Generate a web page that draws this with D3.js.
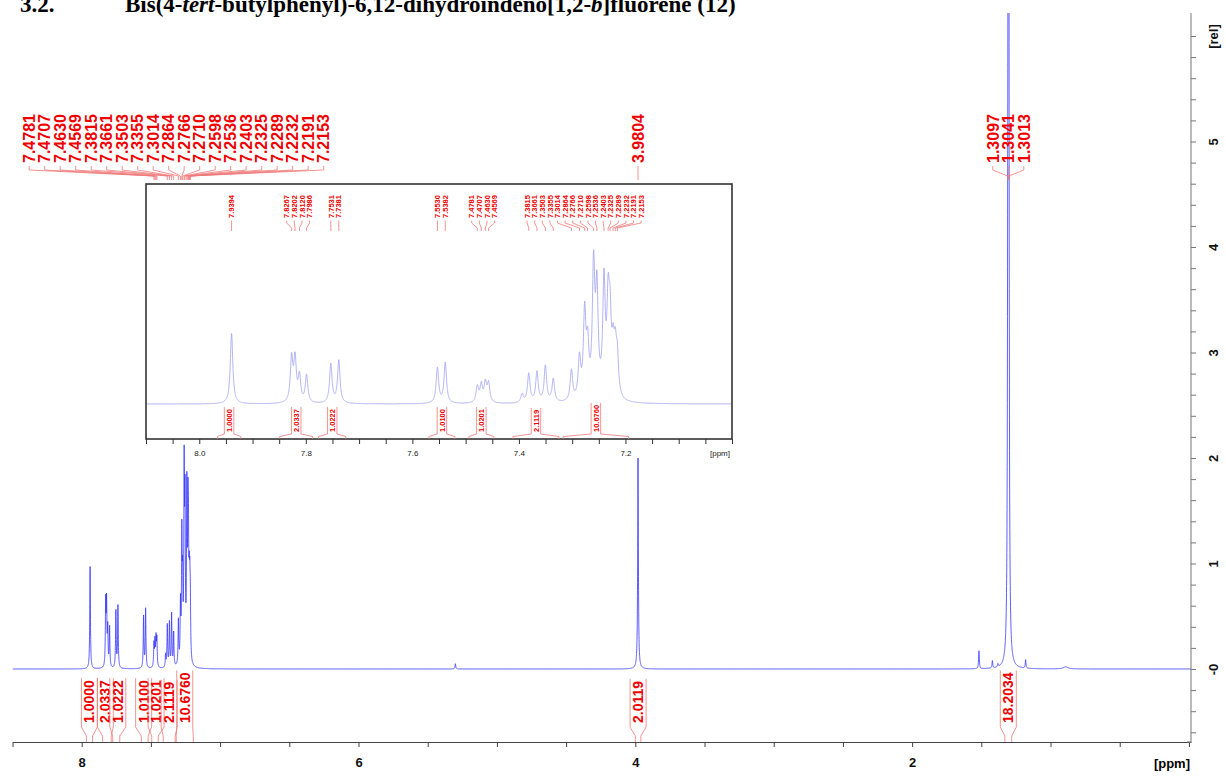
<!DOCTYPE html>
<html>
<head>
<meta charset="utf-8">
<script src="https://cdn.jsdelivr.net/npm/d3@7"></script>
<style>
body { margin: 0; background: #fff; }
svg { display: block; }
text { font-family: "Liberation Sans", Arial, sans-serif; }
</style>
</head>
<body>
<div id="chart"></div>
<script>
// Peak list: shift (ppm), height (rel), half width (ppm)
var peakShift = [7.9394, 7.8267, 7.8202, 7.8120, 7.7986, 7.7531, 7.7381, 7.5530, 7.5382,
	7.4781, 7.4707, 7.4630, 7.4569, 7.3940, 7.3815, 7.3661, 7.3503, 7.3355, 7.3014,
	7.2864, 7.2766, 7.2710, 7.2598, 7.2536, 7.2403, 7.2325, 7.2289, 7.2232, 7.2191, 7.2153,
	5.3000, 3.9804, 1.5170, 1.4200, 1.3800, 1.3097, 1.3041, 1.3013, 1.1800, 0.8900];
var peakHeight = [0.97, 0.60, 0.58, 0.35, 0.38, 0.54, 0.59, 0.49, 0.56,
	0.22, 0.24, 0.26, 0.26, 0.12, 0.40, 0.42, 0.50, 0.32, 0.42,
	0.55, 1.15, 0.65, 1.75, 1.40, 1.55, 1.15, 0.90, 0.55, 0.55, 0.50,
	0.05, 2.00, 0.17, 0.07, 0.03, 1.50, 17.0, 3.00, 0.08, 0.02];
var peakWidth = [0.0028, 0.0028, 0.0028, 0.0028, 0.0028, 0.0028, 0.0028, 0.0028, 0.0028,
	0.0028, 0.0028, 0.0028, 0.0028, 0.0028, 0.0028, 0.0028, 0.0028, 0.0028, 0.0028,
	0.0028, 0.0028, 0.0028, 0.0028, 0.0028, 0.0028, 0.0028, 0.0028, 0.0028, 0.0028, 0.0028,
	0.0030, 0.0030, 0.0030, 0.0030, 0.0030, 0.0025, 0.0025, 0.0025, 0.0030, 0.0200];

// Peak picking labels
var mainPeakLabels = [7.4781, 7.4707, 7.4630, 7.4569, 7.3815, 7.3661, 7.3503, 7.3355, 7.3014,
	7.2864, 7.2766, 7.2710, 7.2598, 7.2536, 7.2403, 7.2325, 7.2289, 7.2232, 7.2191, 7.2153,
	3.9804, 1.3097, 1.3041, 1.3013];
var insetPeakLabels = [7.9394, 7.8267, 7.8202, 7.8120, 7.7986, 7.7531, 7.7381, 7.5530, 7.5382,
	7.4781, 7.4707, 7.4630, 7.4569, 7.3815, 7.3661, 7.3503, 7.3355, 7.3014,
	7.2864, 7.2766, 7.2710, 7.2598, 7.2536, 7.2403, 7.2325, 7.2289, 7.2232, 7.2191, 7.2153];

// Integrals: region limits (ppm) and values
var integralFrom = [7.966, 7.849, 7.776, 7.569, 7.494, 7.411, 7.317, 4.000, 1.330];
var integralTo = [7.922, 7.787, 7.725, 7.520, 7.447, 7.325, 7.194, 3.960, 1.280];
var integralValue = ["1.0000", "2.0337", "1.0222", "1.0100", "1.0201", "2.1119", "10.6760", "2.0119", "18.2034"];

// Axis ticks
var mainXLabels = [8, 6, 4, 2];
var mainYLabels = [0, 1, 2, 3, 4, 5];
var insetXLabels = [8.0, 7.8, 7.6, 7.4, 7.2];

var W = 1226, H = 777;
var red = "#f00000", redLine = "#f07878";

var svg = d3.select("#chart").append("svg").attr("width", W).attr("height", H);

var x = d3.scaleLinear().domain([8.5, -0.015]).range([12.5, 1191]);
var y = d3.scaleLinear().domain([0, 1]).range([669, 563.5]);
var xi = d3.scaleLinear().domain([8.1, 7.0]).range([146, 732]);
var yi = d3.scaleLinear().domain([0, 1]).range([404, 331.5]);

function intensity(ppm) {
	var s = 0;
	for (var i = 0; i < peakShift.length; i++) {
		var d = (ppm - peakShift[i]) / peakWidth[i];
		s += peakHeight[i] / (1 + d * d);
	}
	return s;
}

function sampleGrid(lo, hi, step) {
	var g = d3.range(lo, hi, step).concat(peakShift.filter(p => p > lo && p < hi));
	g.sort(d3.ascending);
	return g.map(p => [p, intensity(p)]);
}

// spread labels so they keep a minimum gap, centred on each crowded group
function spread(xs, gap) {
	var out = [];
	xs.forEach(function(v) {
		out.push({sum: v, n: 1, pos: v});
		while (out.length > 1) {
			var a = out[out.length - 2], b = out[out.length - 1];
			if (b.pos - (a.pos + (a.n - 1) * gap) >= gap) break;
			var m = {sum: a.sum + b.sum, n: a.n + b.n};
			m.pos = m.sum / m.n - (m.n - 1) * gap / 2;
			out.splice(out.length - 2, 2, m);
		}
	});
	var res = [];
	out.forEach(function(g) { for (var i = 0; i < g.n; i++) res.push(g.pos + i * gap); });
	return res;
}

// ---- title (cut at the top of the page)
var title = svg.append("text")
	.attr("y", 12)
	.style("font-family", "'Liberation Serif', 'Times New Roman', serif")
	.style("font-weight", "bold")
	.style("font-size", "23px");
title.append("tspan").attr("x", 20).text("3.2.");
var t2 = title.append("tspan").attr("x", 125);
t2.append("tspan").text("Bis(4-");
t2.append("tspan").style("font-style", "italic").text("tert");
t2.append("tspan").text("-butylphenyl)-6,12-dihydroindeno[1,2-");
t2.append("tspan").style("font-style", "italic").text("b");
t2.append("tspan").text("]fluorene (12)");

// ---- main spectrum
svg.append("clipPath").attr("id", "mainClip")
	.append("rect").attr("x", 12.5).attr("y", 13).attr("width", 1191 - 12.5).attr("height", 742 - 13);

var mainData = sampleGrid(-0.015, 8.5, 0.0005);
svg.append("path")
	.attr("clip-path", "url(#mainClip)")
	.attr("d", d3.line().x(d => x(d[0])).y(d => y(d[1]))(mainData))
	.attr("fill", "none")
	.attr("stroke", "#3636ff")
	.attr("stroke-width", 0.8);

// ---- main x axis
var xMinor = d3.range(0, 8.51, 0.5);
var xAxis = d3.axisBottom(x)
	.tickValues(xMinor)
	.tickSize(5)
	.tickSizeOuter(0)
	.tickFormat(d => mainXLabels.indexOf(d) >= 0 ? d : "");
var gx = svg.append("g").attr("transform", "translate(0,742)").call(xAxis);
gx.select(".domain").attr("stroke", "#444");
gx.selectAll(".tick line").attr("stroke", "#444");
gx.selectAll(".tick text")
	.attr("dy", "1.3em")
	.style("font-weight", "bold").style("font-size", "13px").attr("fill", "#111");
svg.append("text").attr("x", 1190).attr("y", 768).attr("text-anchor", "end")
	.style("font-weight", "bold").style("font-size", "13px").text("[ppm]");

// ---- main y axis (right)
var yMinor = d3.range(-6, 62, 2).map(v => v / 10);
var yAxis = d3.axisRight(y)
	.tickValues(yMinor)
	.tickSize(5)
	.tickSizeOuter(0)
	.tickFormat(function(d) {
		if (d === 6) return "[rel]";
		if (mainYLabels.indexOf(d) >= 0) return d === 0 ? "-0" : d;
		return "";
	});
var gy = svg.append("g").attr("transform", "translate(1191,0)").call(yAxis);
gy.select(".domain").attr("d", "M0,13V742H-4").attr("stroke", "#777");
gy.selectAll(".tick line").attr("stroke", "#777");
gy.selectAll(".tick text")
	.attr("x", 0).attr("dy", 0)
	.attr("text-anchor", "middle")
	.attr("transform", "translate(27,0) rotate(-90)")
	.style("font-weight", "bold").style("font-size", "13px").attr("fill", "#111");

// ---- main peak labels
function drawPeakLabels(g, shifts, sx, gap, opt) {
	var px = shifts.map(sx);
	var order = d3.range(px.length).sort((a, b) => px[a] - px[b]);
	var lx = spread(order.map(i => px[i]), gap);
	order.forEach(function(idx, k) {
		var L = lx[k], P = px[idx];
		g.append("text")
			.attr("transform", "translate(" + L + "," + opt.textY + ") rotate(-90)")
			.attr("dy", "0.36em")
			.style("font-weight", "bold").style("font-size", opt.font + "px")
			.attr("fill", red)
			.text(shifts[idx].toFixed(4));
		g.append("path")
			.attr("d", "M" + L + "," + opt.l0 + "V" + opt.l1 + "L" + P + "," + opt.l2 + "V" + opt.l3)
			.attr("fill", "none").attr("stroke", redLine).attr("stroke-width", 0.8);
	});
}
drawPeakLabels(svg.append("g"), mainPeakLabels, x, 15.5,
	{textY: 163, font: 16, l0: 166, l1: 170, l2: 176, l3: 180});

// ---- integrals
function drawIntegral(g, i, sx, lx, opt) {
	var t = g.append("text")
		.attr("transform", "translate(" + lx + "," + opt.textY + ") rotate(-90)")
		.attr("dy", "0.36em")
		.style("font-weight", "bold").style("font-size", opt.font + "px")
		.attr("fill", red)
		.text(integralValue[i]);
	var len = t.node().getComputedTextLength();
	var top = opt.textY - len - 2, hw = opt.font * 0.5 + 1;
	var x0 = sx(integralFrom[i]), x1 = sx(integralTo[i]);
	var path = "M" + x0 + "," + opt.foot + "V" + opt.shoulder + "L" + (lx - hw) + "," + opt.side + "V" + top +
		"M" + x1 + "," + opt.foot + "V" + opt.shoulder + "L" + (lx + hw) + "," + opt.side + "V" + top;
	g.append("path").attr("d", path).attr("fill", "none").attr("stroke", redLine).attr("stroke-width", 0.8);
}
var gInt = svg.append("g");
var intCentres = integralFrom.map((f, i) => x((f + integralTo[i]) / 2));
var intLx = spread(intCentres, 12.5);
integralValue.forEach(function(v, i) {
	drawIntegral(gInt, i, x, intLx[i], {textY: 723, font: 14, foot: 742, shoulder: 736, side: 727});
});

// ---- inset
var inset = svg.append("g");
inset.append("rect").attr("x", 146).attr("y", 184).attr("width", 732 - 146).attr("height", 439 - 184)
	.attr("fill", "#fff").attr("stroke", "#333").attr("stroke-width", 1.6);
svg.append("clipPath").attr("id", "insetClip")
	.append("rect").attr("x", 147).attr("y", 185).attr("width", 732 - 148).attr("height", 439 - 186);
var insetData = sampleGrid(7.0, 8.1, 0.0002);
inset.append("path")
	.attr("clip-path", "url(#insetClip)")
	.attr("d", d3.line().x(d => xi(d[0])).y(d => yi(d[1]))(insetData))
	.attr("fill", "none")
	.attr("stroke", "#a0a0f4")
	.attr("stroke-width", 0.8);

var xiAxis = d3.axisBottom(xi)
	.tickValues(d3.range(0, 23).map(v => 8.1 - v * 0.05))
	.tickSize(5)
	.tickSizeOuter(0)
	.tickFormat(function(d) {
		var r = Math.round(d * 10) / 10;
		return (Math.abs(d - r) < 1e-6 && insetXLabels.indexOf(r) >= 0) ? r.toFixed(1) : "";
	});
var gxi = inset.append("g").attr("transform", "translate(0,439)").call(xiAxis);
gxi.select(".domain").remove();
gxi.selectAll(".tick line").attr("stroke", "#333");
gxi.selectAll(".tick text").attr("dy", "1.1em").style("font-size", "8px").attr("fill", "#222");
inset.append("text").attr("x", 730).attr("y", 456).attr("text-anchor", "end")
	.style("font-size", "8px").attr("fill", "#222").text("[ppm]");

drawPeakLabels(inset.append("g"), insetPeakLabels, xi, 7.6,
	{textY: 218, font: 7.5, l0: 220.5, l1: 223, l2: 228, l3: 231});

integralValue.forEach(function(v, i) {
	if (integralFrom[i] < 7.0) return;
	var c = xi((integralFrom[i] + integralTo[i]) / 2);
	drawIntegral(inset, i, xi, c, {textY: 432, font: 7.5, foot: 439, shoulder: 436.5, side: 434});
});
</script>
</body>
</html>
